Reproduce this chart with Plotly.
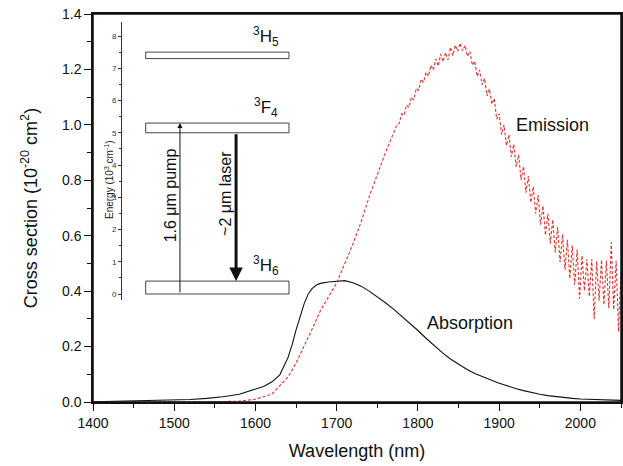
import plotly.graph_objects as go

# ---------------- data ----------------
abs_wl = [1400, 1420, 1440, 1460, 1480, 1500, 1520, 1540, 1560, 1580, 1600, 1610, 1620, 1630,
          1640, 1645, 1650, 1655, 1660, 1665, 1670, 1675, 1680, 1690, 1700, 1710, 1720, 1730,
          1740, 1750, 1760, 1770, 1780, 1790, 1800, 1810, 1820, 1830, 1840, 1850, 1860, 1870,
          1880, 1890, 1900, 1910, 1920, 1930, 1940, 1950, 1960, 1970, 1980, 1990, 2000, 2010,
          2020, 2030, 2040, 2050]
abs_val = [0.001, 0.002, 0.003, 0.004, 0.005, 0.007, 0.009, 0.013, 0.019, 0.028, 0.045, 0.056,
           0.072, 0.098, 0.16, 0.205, 0.26, 0.31, 0.355, 0.39, 0.41, 0.422, 0.428, 0.433, 0.436,
           0.438, 0.43, 0.418, 0.4, 0.38, 0.358, 0.335, 0.31, 0.285, 0.258, 0.23, 0.203, 0.178,
           0.155, 0.135, 0.118, 0.103, 0.09, 0.079, 0.068, 0.058, 0.049, 0.041, 0.034, 0.028,
           0.023, 0.019, 0.016, 0.013, 0.011, 0.01, 0.009, 0.008, 0.007, 0.006]

em_wl = [1400, 1450, 1500, 1550, 1580, 1600, 1620, 1640, 1650, 1660, 1670, 1680, 1690, 1700,
         1710, 1720, 1730, 1740, 1750, 1760, 1770,
         1774, 1777, 1780, 1783, 1786, 1789, 1792, 1795, 1798, 1801, 1804, 1807, 1810, 1813,
         1816, 1819, 1822, 1825, 1828, 1831, 1834, 1837, 1840, 1843, 1846, 1849, 1852, 1855,
         1858, 1861, 1864, 1867, 1870, 1873, 1876, 1879, 1882, 1885, 1888, 1891, 1894, 1897,
         1900, 1903, 1906, 1909, 1912, 1915, 1918, 1921, 1924, 1927, 1930, 1933, 1936, 1939,
         1942, 1945, 1948, 1951, 1954, 1957, 1960, 1963, 1966, 1969, 1972, 1975, 1978, 1981,
         1984, 1987, 1990, 1993, 1996, 1999, 2002, 2005, 2008, 2011, 2014, 2017, 2020, 2023,
         2026, 2029, 2032, 2035, 2038, 2041, 2044, 2047, 2050]
em_val = [0.0, 0.0, 0.0, 0.001, 0.003, 0.01, 0.028, 0.09, 0.14, 0.2, 0.265, 0.33, 0.38, 0.43,
          0.5, 0.57, 0.65, 0.74, 0.82, 0.9, 0.97,
          1.0, 1.005, 1.04, 1.035, 1.072, 1.063, 1.1, 1.09, 1.132, 1.125, 1.165, 1.153, 1.19,
          1.175, 1.215, 1.198, 1.238, 1.212, 1.255, 1.228, 1.261, 1.234, 1.28, 1.25, 1.288,
          1.265, 1.295, 1.267, 1.287, 1.247, 1.265, 1.215, 1.23, 1.175, 1.198, 1.145, 1.168,
          1.105, 1.13, 1.075, 1.095, 1.02, 1.04, 0.965, 1.0, 0.925, 0.965, 0.885, 0.93, 0.848,
          0.892, 0.801, 0.85, 0.755, 0.815, 0.72, 0.777, 0.68, 0.747, 0.64, 0.708, 0.602, 0.68,
          0.572, 0.658, 0.54, 0.63, 0.505, 0.605, 0.477, 0.585, 0.445, 0.565, 0.423, 0.55,
          0.373, 0.528, 0.402, 0.515, 0.38, 0.515, 0.3, 0.507, 0.365, 0.513, 0.351, 0.51,
          0.338, 0.576, 0.334, 0.51, 0.255, 0.48]

# inset: energy levels (10^3 cm^-1)
level_names = ["<sup>3</sup>H<sub>5</sub>", "<sup>3</sup>F<sub>4</sub>", "<sup>3</sup>H<sub>6</sub>"]
level_low = [7.3, 5.0, 0.0]
level_high = [7.5, 5.3, 0.4]
pump_from, pump_to = 0.0, 5.3
laser_from, laser_to = 5.0, 0.4

x_ticks = [1400, 1500, 1600, 1700, 1800, 1900, 2000]
y_ticks = [0.0, 0.2, 0.4, 0.6, 0.8, 1.0, 1.2, 1.4]
inset_ticks = [0, 1, 2, 3, 4, 5, 6, 7, 8]

FONT = "Liberation Sans, Arial, sans-serif"
W, H = 623, 466
L, T = 93, 14                 # plot-area left / top in page pixels
PW, PH = 528, 388             # plot-area size

fig = go.Figure()
fig.add_trace(go.Scatter(x=abs_wl, y=abs_val, mode="lines", name="Absorption",
                         line=dict(color="#111111", width=1.1), showlegend=False))
fig.add_trace(go.Scatter(x=em_wl, y=em_val, mode="lines", name="Emission",
                         line=dict(color="#e8302a", width=1.1, dash="3px,2px"), showlegend=False))

# invisible trace on inset axes so they render
fig.add_trace(go.Scatter(x=[0, 1], y=[0, 8], xaxis="x2", yaxis="y2", mode="markers",
                         marker=dict(opacity=0), hoverinfo="skip", showlegend=False))

fig.update_layout(
    width=W, height=H,
    margin=dict(l=L, r=W - L - PW, t=T, b=H - T - PH, autoexpand=False),
    paper_bgcolor="white", plot_bgcolor="white",
    font=dict(family=FONT, color="#111111", size=14),
    xaxis=dict(range=[1400, 2050], tickvals=x_ticks, ticks="outside", ticklen=7, tickwidth=1.2,
               tickcolor="#111", showline=True, linecolor="#111", linewidth=1.5, mirror=True,
               showgrid=False, zeroline=False, tickfont=dict(size=14), automargin=False,
               ticklabeloverflow="allow",
               minor=dict(dtick=50, ticks="outside", ticklen=4, tickcolor="#111", tickwidth=1.2),
               title=dict(text="Wavelength (nm)", font=dict(size=18), standoff=15)),
    yaxis=dict(range=[0, 1.4], tickvals=y_ticks, tickformat=".1f", ticks="outside", ticklen=7,
               tickwidth=1.2, tickcolor="#111", showline=True, linecolor="#111", linewidth=1.5,
               mirror=True, showgrid=False, zeroline=False, tickfont=dict(size=14),
               automargin=False, ticklabeloverflow="allow",
               minor=dict(dtick=0.1, ticks="outside", ticklen=4, tickcolor="#111", tickwidth=1.2),
               title=dict(text="Cross section (10<sup>-20</sup> cm<sup>2</sup>)",
                          font=dict(size=18), standoff=20)),
    xaxis2=dict(domain=[(122 - L) / PW, (290 - L) / PW], range=[0, 1], anchor="y2",
                visible=False),
    yaxis2=dict(domain=[(T + PH - 300) / PH, (T + PH - 22) / PH], range=[-0.186, 8.434],
                anchor="x2", tickvals=inset_ticks, ticks="outside", ticklen=3, tickwidth=1,
                tickcolor="#333", showline=True, linecolor="#333", linewidth=1,
                showgrid=False, zeroline=False, tickfont=dict(size=8, color="#333"),
                automargin=False,
                minor=dict(dtick=0.5, ticks="outside", ticklen=2, tickcolor="#333")),
)

# frame around the main plot area
fig.add_shape(type="rect", xref="paper", yref="paper", x0=0, x1=1, y0=0, y1=1,
              line=dict(color="#111", width=1.5), fillcolor="rgba(0,0,0,0)", layer="above")

# energy level boxes
for lo, hi, name in zip(level_low, level_high, level_names):
    fig.add_shape(type="rect", xref="x2", yref="y2", x0=0.141, x1=0.994, y0=lo, y1=hi,
                  line=dict(color="#444", width=1), fillcolor="white", layer="above")
    fig.add_annotation(xref="x2", yref="y2", x=0.86, y=hi + 0.02, text=name, showarrow=False,
                       font=dict(size=17, color="#111"), xanchor="center", yanchor="bottom")

# pump arrow
fig.add_annotation(xref="x2", yref="y2", axref="x2", ayref="y2", x=0.345, y=pump_to,
                   ax=0.345, ay=pump_from, text="", showarrow=True, arrowhead=2,
                   arrowsize=1, arrowwidth=1, arrowcolor="#111")
# laser arrow
fig.add_annotation(xref="x2", yref="y2", axref="x2", ayref="y2", x=0.679, y=laser_to,
                   ax=0.679, ay=laser_from, text="", showarrow=True, arrowhead=2,
                   arrowsize=0.9, arrowwidth=3, arrowcolor="#111")
fig.add_annotation(xref="x2", yref="y2", x=0.286, y=3.06, text="1.6 \u03bcm pump",
                   textangle=-90, showarrow=False, font=dict(size=16, color="#111"))
fig.add_annotation(xref="x2", yref="y2", x=0.612, y=3.13, text="~2 \u03bcm laser",
                   textangle=-90, showarrow=False, font=dict(size=16, color="#111"))
# inset axis title
fig.add_annotation(xref="paper", yref="paper", x=(101 - L) / PW, y=(T + PH - 180) / PH,
                   text="Energy (10<sup>3</sup> cm<sup>-1</sup>)", textangle=-90,
                   showarrow=False, font=dict(size=10, color="#222"))

# curve labels
fig.add_annotation(x=1966, y=1.0, text="Emission", showarrow=False, font=dict(size=18))
fig.add_annotation(x=1864, y=0.285, text="Absorption", showarrow=False, font=dict(size=18))

fig.write_html("out.html", config={"displayModeBar": False},
               post_script="document.body.style.margin='0';document.body.style.overflow='hidden';")
